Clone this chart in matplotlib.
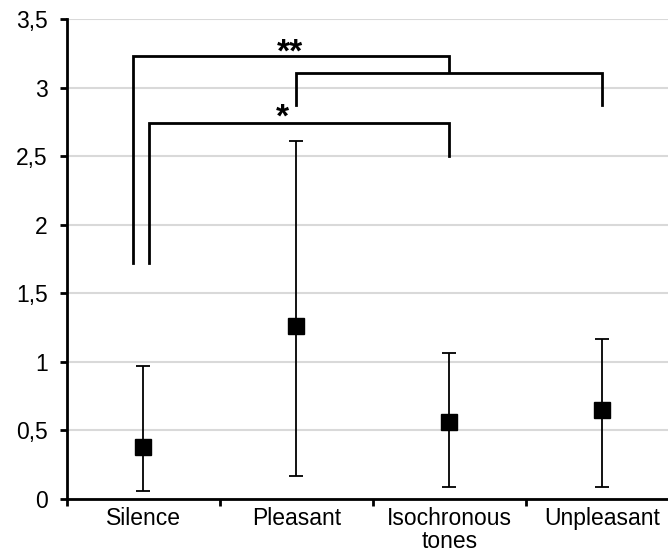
import matplotlib.pyplot as plt
import numpy as np

plt.rcParams['font.family'] = ['Liberation Sans', 'DejaVu Sans']

# data
conditions = ['Silence', 'Pleasant', 'Isochronous\ntones', 'Unpleasant']
means = [0.38, 1.26, 0.56, 0.65]
lower = [0.06, 0.17, 0.09, 0.09]
upper = [0.97, 2.61, 1.065, 1.17]

# significance brackets: (x_left, x_right, y_left_bottom, y_right_bottom, y_top)
brackets = [
    (-0.07, 2.0, 1.72, 3.12, 3.23),
    (1.0, 3.0, 2.87, 2.87, 3.105),
    (0.035, 2.0, 1.72, 2.50, 2.745),
]
# star labels: (text, x, baseline y)
stars = [('**', 0.958, 3.19), ('*', 0.909, 2.715)]

fig = plt.figure(figsize=(6.68, 5.54), dpi=100)
W, H = 668, 554
ax = fig.add_axes([67 / W, (H - 499) / H, (668 - 67) / W, 480 / H])

x = np.arange(len(conditions))
m = np.array(means)
yerr = [m - np.array(lower), np.array(upper) - m]
ax.errorbar(x, m, yerr=yerr, fmt='s', color='black', markersize=11,
            elinewidth=1.3, capsize=5, capthick=1.3, zorder=3)

for xl, xr, yl, yr, yt in brackets:
    ax.plot([xl, xl, xr, xr], [yl, yt, yt, yr], color='black', lw=2,
            solid_joinstyle='miter', zorder=2)
for lab, lx, ly in stars:
    ax.text(lx, ly, lab, ha='center', va='baseline', fontsize=24,
            fontweight='bold')

ax.set_xlim(-0.5, 3.43)
ax.set_ylim(0, 3.5)
ax.set_yticks(np.arange(0, 3.51, 0.5))
ax.set_yticklabels(['0', '0,5', '1', '1,5', '2', '2,5', '3', '3,5'], fontsize=16.5)
ax.yaxis.grid(True, color='#d9d9d9', lw=1.5)
ax.set_axisbelow(True)

ax.set_xticks(x)
ax.set_xticklabels(conditions, fontsize=16.5, linespacing=1.0)
ax.set_xticks(np.arange(-0.5, 3.5, 1), minor=True)
ax.tick_params(axis='x', which='major', length=0, pad=6)
ax.tick_params(axis='x', which='minor', length=5, width=2, direction='out')
ax.tick_params(axis='y', length=5, width=2, direction='out', pad=9)

for s in ['top', 'right']:
    ax.spines[s].set_visible(False)
ax.spines['left'].set_linewidth(2)
ax.spines['bottom'].set_linewidth(2)

fig.savefig('out.png', dpi=100)
